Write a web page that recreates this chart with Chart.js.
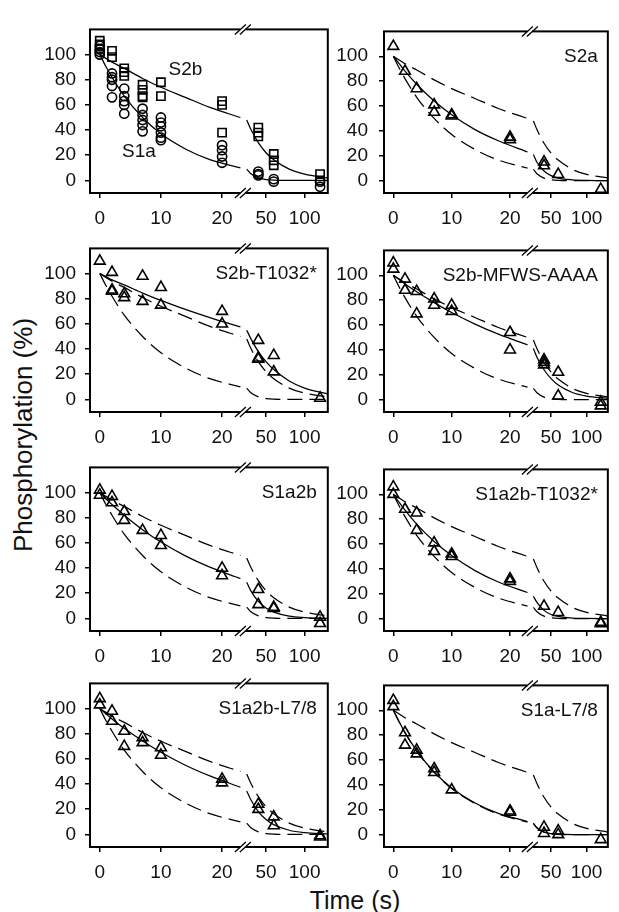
<!DOCTYPE html>
<html>
<head>
<meta charset="utf-8">
<script src="https://cdn.jsdelivr.net/npm/chart.js@4.4.1/dist/chart.umd.min.js"></script>
<style>
  html, body { margin: 0; padding: 0; background: #fff; }
  body { width: 619px; height: 912px; overflow: hidden; position: relative;
         font-family: 'Liberation Sans', Arial, Helvetica, sans-serif; color: #111; }
  canvas.panel { position: absolute; }
  #ytitle { position: absolute; left: 23px; top: 435px; transform: translate(-50%, -50%) rotate(-90deg);
            font-size: 26px; white-space: nowrap; }
  #xtitle { position: absolute; left: 355px; top: 900px; transform: translate(-50%, -50%);
            font-size: 25px; white-space: nowrap; }
</style>
</head>
<body>
<div id="ytitle">Phosphorylation (%)</div>
<div id="xtitle">Time (s)</div>
<script>
// ---------------- data ----------------
const panelNames = ['', 'S2a', 'S2b-T1032*', 'S2b-MFWS-AAAA', 'S1a2b', 'S1a2b-T1032*', 'S1a2b-L7/8', 'S1a-L7/8'];
const curveNames = ['S2b', 'S1a'];
const xTicksEarly = [0, 10, 20];
const xTicksLate = [50, 100];
const yTicks = [0, 20, 40, 60, 80, 100];

// time grid used for reading the fitted curves
const curveTimesEarly = [0, 1, 2, 4, 7, 10, 14, 18, 23];
const curveTimesLate = [25, 30, 40, 50, 60, 80, 100, 130];

// fitted curves
const fitS2bEarly = [100, 97, 94, 89, 81, 74, 66, 58, 50];
const fitS2bLate = [48, 41, 30, 22, 16.5, 9, 5, 2];
const fitS1aEarly = [100, 90.5, 82, 67, 50, 37, 25, 16.5, 10];
const fitS1aLate = [9, 5.5, 2, 0.7, 0.2, 0, 0, 0];
const fitS2aEarly = [100, 94, 88, 77.5, 64, 53, 41, 32, 23];
const fitS2aLate = [21, 14.7, 7.7, 4, 2, 0.6, 0.2, 0];
const fitS2bT1032Early = [100, 97.6, 95, 91, 84.5, 78.7, 71.5, 65, 57.6];
const fitS2bT1032Late = [55, 48.7, 38, 30, 23.7, 14.7, 9, 4.4];
const fitS2bMfwsEarly = [100, 96.5, 93, 86.7, 78, 70, 60.7, 52.6, 44];
const fitS2bMfwsLate = [41, 34, 24, 16.8, 11.7, 5.7, 2.8, 1];
const fitS1a2bEarly = [100, 95, 90.5, 82, 70.5, 60.7, 49.7, 40.7, 31.7];
const fitS1a2bLate = [28.7, 22.3, 13.5, 8.2, 5, 1.8, 0.7, 0];
const fitS1a2bT1032Early = [100, 93.4, 87.3, 76, 62, 50.7, 38.6, 29.4, 21];
const fitS1a2bT1032Late = [18, 13, 6.6, 3.3, 1.7, 0.4, 0.1, 0];
const fitS1a2bL78Early = [100, 95.8, 91.8, 84.3, 74.2, 65.3, 55, 46.5, 37.5];
const fitS1a2bL78Late = [34.5, 28, 18.2, 11.9, 7.8, 3.3, 1.4, 0.4];
const fitS1aL78Early = [100, 90.7, 82, 67.6, 50.3, 37.5, 25.4, 17.1, 10.5];
const fitS1aL78Late = [9, 5.3, 2, 0.7, 0.3, 0, 0, 0];

// observations [time (s), phosphorylation (%)]
const obsS2b = [[0,111],[0,108],[0,105],[2,103],[2,98],[4,89],[4,86],[4,83],[7,76],[7,72],[7,67],[7,66],
  [10,78],[10,67],[20,63],[20,60],[20,38],[40,42],[40,38],[40,35],[60,21],[60,16],[60,12],[120,5],[120,0]];
const obsS1a = [[0,107],[0,104],[0,102],[0,100],[2,85],[2,82],[2,80],[2,75],[2,66],[4,73],[4,67],[4,63],[4,60],[4,53],
  [7,57],[7,52],[7,48],[7,44],[7,39],[10,50],[10,46],[10,43],[10,38],[10,34],[10,32],[20,28],[20,24],[20,19],[20,14],
  [40,7],[40,5],[40,4],[60,1],[60,-1],[120,-1],[120,-5]];
const obsS2a = [[0,108],[2,88],[4,74],[7,61],[7,55],[10,53],[10,52],[20,35],[20,33],[40,15],[40,12],[60,5],[120,-7]];
const obsS2bT1032 = [[0,110],[2,101],[2,87],[2,86],[4,84],[4,81],[7,98],[7,78],[10,89],[10,75],[20,70],[20,60],
  [40,47],[40,33],[40,32],[60,35],[60,22],[120,1]];
const obsS2bMfws = [[0,110],[0,105],[2,97],[2,88],[4,87],[4,69],[7,81],[7,76],[10,76],[10,71],[20,54],[20,40],
  [40,32],[40,30],[40,28],[60,22],[60,3],[120,-2],[120,-5]];
const obsS1a2b = [[0,102],[0,98],[2,97],[2,92],[4,85],[4,78],[7,70],[10,66],[10,58],[20,40],[20,34],
  [40,23],[40,11],[60,9],[60,8],[120,1],[120,-4]];
const obsS1a2bT1032 = [[0,106],[0,100],[2,88],[4,85],[4,71],[7,61],[7,54],[10,52],[10,50],[20,32],[20,30],
  [40,10],[60,5],[120,-3],[120,-4]];
const obsS1a2bL78 = [[0,108],[0,103],[2,98],[2,90],[4,82],[4,70],[7,77],[7,73],[10,69],[10,63],[20,44],[20,41],
  [40,24],[40,20],[60,14],[60,7],[120,-1],[120,-2]];
const obsS1aL78 = [[0,108],[0,103],[2,82],[2,72],[4,68],[4,65],[7,53],[7,50],[10,36],[20,19],[20,18],
  [40,6],[40,1],[60,3],[60,0],[120,-4]];

// ---------------- layout / style ----------------
const FONT = "'Liberation Sans', Arial, Helvetica, sans-serif";
const INK = '#111';
const rowTops = [19, 237.5, 456.5, 672.5];
const areaH = 174;
const columns = [
  { canvasLeft: 0, canvasWidth: 340, yAxisWidth: 90, padRight: 12, labelPad: 9, w1: 1.8, nameInset: 11 },
  { canvasLeft: 330, canvasWidth: 293, yAxisWidth: 54, padRight: 2, labelPad: 11, w1: 1.87, nameInset: 10 }
];
// annotation anchors for panel 1 (data units)
const curveNameX = [14, 6.4];
const curveNameY = [88, 23];

const S2B = [fitS2bEarly, fitS2bLate];
const S1A = [fitS1aEarly, fitS1aLate];
const panels = [
  { obs: [[obsS2b, 'rect', 5.8], [obsS1a, 'circle', 4.6]], solid: [S2B, S1A], dashed: [] },
  { obs: [[obsS2a, 'triangle', 6.2]], solid: [[fitS2aEarly, fitS2aLate]], dashed: [S2B, S1A] },
  { obs: [[obsS2bT1032, 'triangle', 6.2]], solid: [[fitS2bT1032Early, fitS2bT1032Late]], dashed: [S2B, S1A] },
  { obs: [[obsS2bMfws, 'triangle', 6.2]], solid: [[fitS2bMfwsEarly, fitS2bMfwsLate]], dashed: [S2B, S1A] },
  { obs: [[obsS1a2b, 'triangle', 6.2]], solid: [[fitS1a2bEarly, fitS1a2bLate]], dashed: [S2B, S1A] },
  { obs: [[obsS1a2bT1032, 'triangle', 6.2]], solid: [[fitS1a2bT1032Early, fitS1a2bT1032Late]], dashed: [S2B, S1A] },
  { obs: [[obsS1a2bL78, 'triangle', 6.2]], solid: [[fitS1a2bL78Early, fitS1a2bL78Late]], dashed: [S2B, S1A] },
  { obs: [[obsS1aL78, 'triangle', 6.2]], solid: [[fitS1aL78Early, fitS1aL78Late]], dashed: [S2B, S1A] }
];

function curvePoints(times, values) { return times.map((t, i) => ({ x: t, y: values[i] })); }

const framePlugin = {
  id: 'frame',
  afterDraw(chart) {
    const { ctx, chartArea: a } = chart;
    const o = chart.options.plugins.frame;
    ctx.save();
    ctx.strokeStyle = '#000';
    ctx.lineWidth = 2;
    ctx.strokeRect(a.left, a.top, a.right - a.left, a.bottom - a.top);
    const bx = chart.scales.x.right;
    [a.top, a.bottom].forEach(y => {
      ctx.fillStyle = '#fff';
      ctx.fillRect(bx - 2.5, y - 1.6, 5, 3.2);
      ctx.strokeStyle = '#000';
      ctx.lineWidth = 1.3;
      ctx.beginPath();
      [-2.5, 2.5].forEach(d => { ctx.moveTo(bx + d - 5.5, y + 5); ctx.lineTo(bx + d + 5.5, y - 5); });
      ctx.stroke();
    });
    ctx.fillStyle = INK;
    ctx.font = '19px ' + FONT;
    ctx.textBaseline = 'middle';
    if (o.name) {
      ctx.textAlign = 'right';
      ctx.fillText(o.name, a.right - o.nameInset, a.top + 25);
    }
    if (o.curveLabels) {
      ctx.textAlign = 'center';
      curveNames.forEach((n, i) => {
        ctx.fillText(n, chart.scales.x.getPixelForValue(curveNameX[i]), chart.scales.y.getPixelForValue(curveNameY[i]));
      });
    }
    ctx.restore();
  }
};

function axisCommon(pad) {
  return {
    grid: { drawOnChartArea: false, drawTicks: true, tickLength: 5, color: '#000', lineWidth: 1.5 },
    border: { display: false },
    ticks: { font: { family: FONT, size: 19 }, color: INK, padding: pad, maxRotation: 0, autoSkip: false }
  };
}

panels.forEach((p, idx) => {
  const col = columns[idx % 2];
  const row = Math.floor(idx / 2);
  const cv = document.createElement('canvas');
  cv.className = 'panel';
  cv.width = col.canvasWidth;
  cv.height = 10 + areaH + 40;
  cv.style.left = col.canvasLeft + 'px';
  cv.style.top = (rowTops[row] - 10) + 'px';
  document.body.appendChild(cv);

  const datasets = [];
  p.obs.forEach(([obs, style, r]) => {
    [['x', obs.filter(d => d[0] <= 30)], ['x2', obs.filter(d => d[0] > 30)]].forEach(([axis, pts]) => {
      datasets.push({
        xAxisID: axis, yAxisID: 'y',
        data: pts.map(d => ({ x: d[0], y: d[1] })),
        showLine: false, pointStyle: style, pointRadius: r,
        borderColor: '#000', backgroundColor: 'rgba(0,0,0,0)', pointBorderWidth: 1.6
      });
    });
  });
  const addCurve = (pair, dash) => {
    [['x', curveTimesEarly, pair[0]], ['x2', curveTimesLate, pair[1]]].forEach(([axis, times, vals]) => {
      datasets.push({
        xAxisID: axis, yAxisID: 'y',
        data: curvePoints(times, vals),
        showLine: true, pointRadius: 0, borderColor: '#000', borderWidth: 1.25,
        borderDash: dash, cubicInterpolationMode: 'monotone', fill: false
      });
    });
  };
  p.solid.forEach(c => addCurve(c, []));
  p.dashed.forEach(c => addCurve(c, [15, 7]));

  const xa = axisCommon(9), xb = axisCommon(9), ya = axisCommon(col.labelPad);
  new Chart(cv, {
    type: 'scatter',
    data: { datasets },
    options: {
      responsive: false, animation: false, devicePixelRatio: 1,
      layout: { padding: { top: 10, right: col.padRight, left: 0, bottom: 0 } },
      plugins: {
        legend: { display: false }, tooltip: { enabled: false },
        frame: { name: panelNames[idx], nameInset: col.nameInset, curveLabels: idx === 0 }
      },
      scales: {
        x: Object.assign(xa, {
          type: 'linear', position: 'bottom', stack: 'time', stackWeight: col.w1, min: -1.6, max: 23.4,
          afterBuildTicks: s => { s.ticks = xTicksEarly.map(v => ({ value: v })); },
          afterFit: s => { s.height = 40; }
        }),
        x2: Object.assign(xb, {
          type: 'linear', position: 'bottom', stack: 'time', stackWeight: 1, min: 20, max: 130,
          afterBuildTicks: s => { s.ticks = xTicksLate.map(v => ({ value: v })); },
          afterFit: s => { s.height = 40; }
        }),
        y: Object.assign(ya, {
          type: 'linear', position: 'left', min: -10, max: 120,
          afterBuildTicks: s => { s.ticks = yTicks.map(v => ({ value: v })); },
          afterFit: s => { s.width = col.yAxisWidth; }
        })
      }
    },
    plugins: [framePlugin]
  });
});
</script>
</body>
</html>
